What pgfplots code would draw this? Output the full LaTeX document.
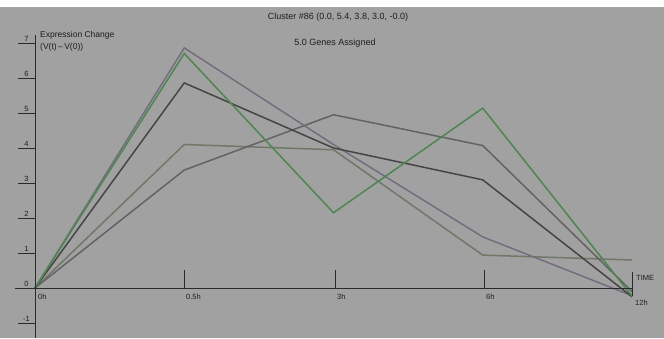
\documentclass[border=0pt]{standalone}
\usepackage{pgfplots}
\pgfplotsset{compat=1.18}
\usepackage{fontspec}
\setmainfont{Liberation Sans}
\definecolor{bg}{HTML}{A1A1A1}
\definecolor{txt}{HTML}{1E1E1E}
\definecolor{axc}{HTML}{2A2A2A}
\definecolor{cgreen}{HTML}{4F8550}
\definecolor{cpurple}{HTML}{736D7E}
\definecolor{cdark}{HTML}{454545}
\definecolor{cgray}{HTML}{636363}
\definecolor{colive}{HTML}{707868}
\begin{document}
\begin{tikzpicture}[x=1pt,y=1pt]
\fill[white] (0,0) rectangle (664,338);
\fill[bg] (0,0) rectangle (664,331);
\begin{axis}[at={(35pt,1pt)}, anchor=south west, scale only axis,
  width=597pt, height=308pt, xmin=0, xmax=4, ymin=-1.4, ymax=7.4,
  axis lines=none, clip=false]
% flat line
\addplot[colive, line width=1.5pt] coordinates {(0,0) (1,4.1) (2,3.95) (3,0.94) (4,0.8)};
% peak at 3h
\addplot[cgray, line width=1.5pt] coordinates {(0,0) (1,3.37) (2,4.95) (3,4.07) (4,-0.1)};
% purple
\addplot[cpurple, line width=1.5pt] coordinates {(0,0) (1,6.86) (2,4.1) (3,1.46) (4,-0.22)};
% dark
\addplot[cdark, line width=1.5pt] coordinates {(0,0) (1,5.86) (2,4.0) (3,3.09) (4,-0.25)};
% green
\addplot[cgreen, line width=1.5pt] coordinates {(0,0) (1,6.7) (2,2.15) (3,5.14) (4,-0.23)};
\end{axis}
% axes
\draw[axc, line width=1pt] (15,50) -- (632,50);
\draw[axc, line width=1pt] (35,303) -- (35,0);
\foreach \v in {-1,0,1,2,3,4,5,6,7} {
  \draw[axc, line width=0.9pt] (18,50+35*\v) -- (35,50+35*\v);
  \node[txt, anchor=south, inner sep=0.6pt, font=\fontsize{7.5}{8}\selectfont] at (26.5,50.5+35*\v) {\v};
}
\foreach \xx in {184,335,484} {
  \draw[axc, line width=0.9pt] (\xx,50) -- (\xx,68);
}
\draw[axc, line width=0.9pt] (632,42) -- (632,66);
\begin{scope}[every node/.style={txt, anchor=west, inner sep=0pt, font=\fontsize{7.5}{8}\selectfont}]
\node at (38,41) {0h};
\node at (186,41) {0.5h};
\node at (337,41) {3h};
\node at (486,41) {6h};
\node at (635,35) {12h};
\node at (636,60) {TIME};
\end{scope}
\node[txt, inner sep=0pt, font=\fontsize{9}{10}\selectfont] at (338,321) {Cluster \#86 (0.0, 5.4, 3.8, 3.0, -0.0)};
\node[txt, inner sep=0pt, font=\fontsize{9}{10}\selectfont] at (335,295) {5.0 Genes Assigned};
\node[txt, anchor=west, inner sep=0pt, font=\fontsize{8.5}{9}\selectfont] at (40,303) {Expression Change};
\node[txt, anchor=west, inner sep=0pt, font=\fontsize{8.5}{9}\selectfont] at (40,291) {(V(t)\,--\,V(0))};
\pgfresetboundingbox
\useasboundingbox (0,0) rectangle (664,338);
\end{tikzpicture}
\end{document}
